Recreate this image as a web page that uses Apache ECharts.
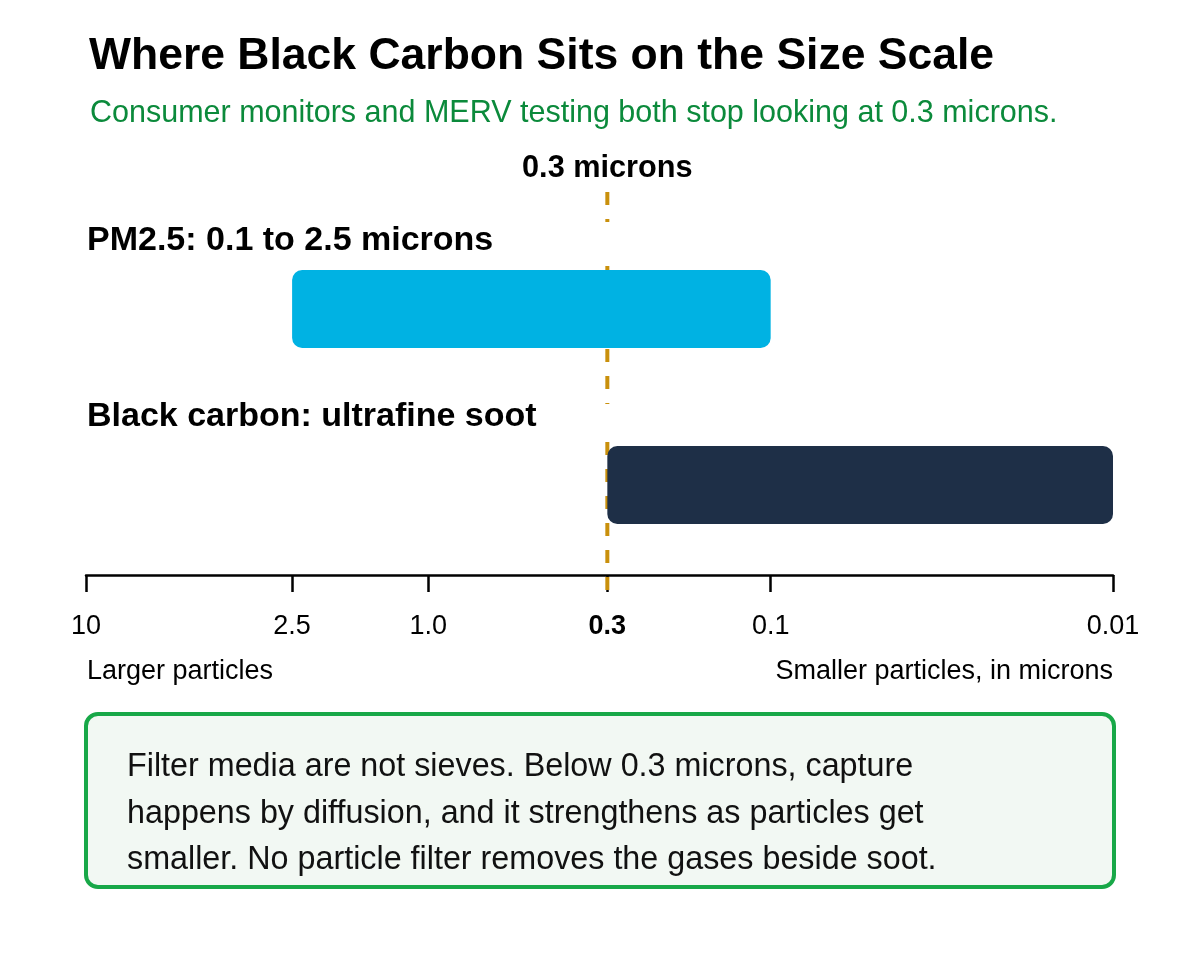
<!DOCTYPE html>
<html>
<head>
<meta charset="utf-8">
<script src="https://cdn.jsdelivr.net/npm/echarts@6/dist/echarts.min.js"></script>
<style>
  html, body { margin: 0; padding: 0; background: #fff; }
  #chart { width: 1200px; height: 953px; }
</style>
</head>
<body>
<div id="chart"></div>
<script>
// size ranges, in microns
var categories = ['PM2.5: 0.1 to 2.5 microns', 'Black carbon: ultrafine soot'];
var rangeFrom = [2.5, 0.3];
var rangeTo = [0.1, 0.01];
var barColors = ['#00B2E3', '#1E2F47'];

var tickValues = [10, 2.5, 1.0, 0.3, 0.1, 0.01];
var tickLabels = ['10', '2.5', '1.0', '0.3', '0.1', '0.01'];
var threshold = 0.3;
var axisMax = 10;
var axisMin = 0.01;

var FONT = '"Liberation Sans", Arial, Helvetica, sans-serif';
var BAR_H = 78;
var logTicks = tickValues.map(function (v) { return Math.log10(v); });

function labelFor(v) {
  for (var i = 0; i < logTicks.length; i++) {
    if (Math.abs(logTicks[i] - v) < 1e-6) {
      return tickValues[i] === threshold ? '{b|' + tickLabels[i] + '}' : tickLabels[i];
    }
  }
  return '';
}

// top edge of the bar in row i, from the category band centre
function barTop(api, x, i) {
  return api.coord([x, i])[1] - 2 - BAR_H / 2;
}

var barData = categories.map(function (c, i) {
  return [Math.log10(rangeFrom[i]), Math.log10(rangeTo[i]), i];
});

var myChart = echarts.init(document.getElementById('chart'));
var option = {
  animation: false,
  title: [
    {
      text: 'Where Black Carbon Sits on the Size Scale',
      left: 84, top: 29,
      textStyle: { fontFamily: FONT, fontSize: 44.5, fontWeight: 'bold', color: '#000' }
    },
    {
      text: 'Consumer monitors and MERV testing both stop looking at 0.3 microns.',
      left: 85, top: 93,
      textStyle: { fontFamily: FONT, fontSize: 30.5, fontWeight: 'normal', color: '#0B8A3B' }
    }
  ],
  grid: { left: 86, right: 87, top: 223, bottom: 378 },
  xAxis: {
    type: 'value',
    min: Math.log10(axisMin),
    max: Math.log10(axisMax),
    inverse: true,
    splitLine: { show: false },
    axisLine: { show: true, lineStyle: { color: '#000', width: 2.5 } },
    axisTick: {
      show: true, inside: false, length: 17,
      customValues: logTicks,
      lineStyle: { color: '#000', width: 2.5 }
    },
    axisLabel: {
      margin: 38,
      customValues: logTicks,
      fontFamily: FONT, fontSize: 27, color: '#000',
      formatter: labelFor,
      rich: { b: { fontFamily: FONT, fontSize: 27, fontWeight: 'bold', color: '#000' } }
    }
  },
  yAxis: {
    type: 'category',
    data: categories,
    inverse: true,
    show: false
  },
  series: [
    {
      // 0.3 micron cut-off line, broken where the row labels sit
      type: 'custom',
      z: 1,
      data: [[Math.log10(threshold)]],
      encode: { x: 0 },
      renderItem: function (params, api) {
        var v = api.value(0);
        var x = api.coord([v, 0])[0];
        var t0 = barTop(api, v, 0);
        var t1 = barTop(api, v, 1);
        var segs = [[192, t0 - 48], [t0 - 4, t0], [t0 + BAR_H + 1, t1 - 42], [t1 - 4, 591]];
        var children = segs.map(function (s) {
          return {
            type: 'line',
            shape: { x1: x, y1: s[0], x2: x, y2: s[1] },
            style: { stroke: '#C9900C', lineWidth: 4, lineDash: [13, 14] }
          };
        });
        children.push({
          type: 'text',
          style: {
            text: '0.3 microns', x: x, y: 169,
            align: 'center', verticalAlign: 'middle',
            font: 'bold 30.7px ' + FONT, fill: '#000'
          }
        });
        return { type: 'group', children: children };
      }
    },
    {
      type: 'custom',
      z: 2,
      data: barData,
      encode: { x: [0, 1], y: 2 },
      renderItem: function (params, api) {
        var idx = api.value(2);
        var a = api.coord([api.value(0), idx]);
        var b = api.coord([api.value(1), idx]);
        var top = barTop(api, api.value(0), idx);
        var cs = params.coordSys;
        return {
          type: 'group',
          children: [
            {
              type: 'text',
              style: {
                text: categories[idx], x: cs.x + 1, y: top - 29,
                verticalAlign: 'middle',
                font: 'bold 34px ' + FONT, fill: '#000'
              }
            },
            {
              type: 'rect',
              shape: { x: Math.min(a[0], b[0]), y: top, width: Math.abs(b[0] - a[0]), height: BAR_H, r: 10 },
              style: { fill: barColors[idx] }
            }
          ]
        };
      }
    }
  ],
  graphic: [
    {
      type: 'text', left: 87, top: 658,
      style: { text: 'Larger particles', font: '27px ' + FONT, fill: '#000' }
    },
    {
      type: 'text', right: 87, top: 658,
      style: { text: 'Smaller particles, in microns', font: '27px ' + FONT, fill: '#000' }
    },
    {
      type: 'rect',
      shape: { x: 86, y: 714, width: 1028, height: 173, r: 12 },
      style: { fill: '#F2F8F3', stroke: '#18A848', lineWidth: 4 }
    },
    {
      type: 'text', left: 127, top: 744,
      style: {
        text: 'Filter media are not sieves. Below 0.3 microns, capture\nhappens by diffusion, and it strengthens as particles get\nsmaller. No particle filter removes the gases beside soot.',
        font: '32.3px ' + FONT, fill: '#111', lineHeight: 46.5
      }
    }
  ]
};
myChart.setOption(option);
</script>
</body>
</html>
